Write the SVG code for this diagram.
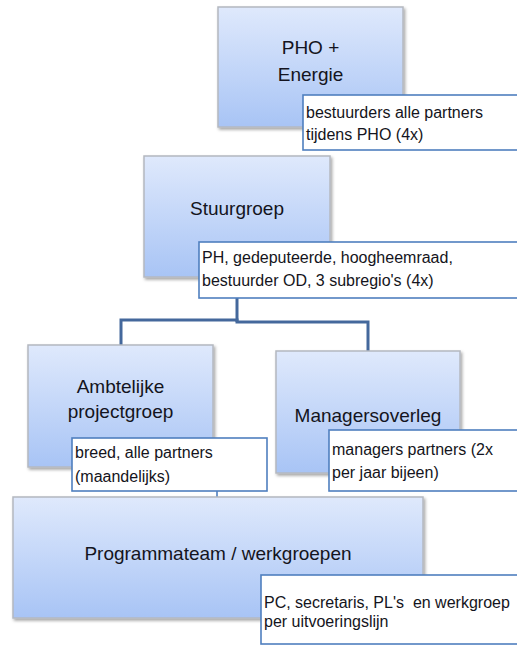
<svg xmlns="http://www.w3.org/2000/svg" width="517" height="647" viewBox="0 0 517 647">
<defs>
<linearGradient id="g" x1="0" y1="0" x2="0" y2="1">
<stop offset="0" stop-color="#dfe9fc"/>
<stop offset="1" stop-color="#a8c4f5"/>
</linearGradient>
<filter id="sh" x="-5%" y="-5%" width="115%" height="120%">
<feDropShadow dx="1.5" dy="2" stdDeviation="1.5" flood-color="#000" flood-opacity="0.35"/>
</filter>
</defs>
<style>
.box{fill:url(#g);stroke:#b4b8c0;stroke-width:1.5;filter:url(#sh)}
.co{fill:#fff;stroke:#4f7fbf;stroke-width:1.6}
.t{font-family:"Liberation Sans",Arial,sans-serif;font-size:19px;fill:#141420;text-anchor:middle}
.c{font-family:"Liberation Sans",Arial,sans-serif;font-size:16px;fill:#141420;white-space:pre}
.ln{fill:none;stroke:#44689c;stroke-width:3}
.ln2{fill:none;stroke:#4f7fbf;stroke-width:1.6}
</style>
<rect width="517" height="647" fill="#fff"/>
<g id="connectors">
<polyline class="ln" points="121,345 121,320 237,320 237,322 368,322 368,351"/>
<line class="ln" x1="237" y1="298" x2="237" y2="322"/>
<line class="ln2" x1="217" y1="467" x2="217" y2="498"/>
</g>
<g id="pho">
<rect class="box" x="218" y="7" width="185" height="120"/>
<text class="t" x="310.5" y="54">PHO +</text>
<text class="t" x="310.5" y="81">Energie</text>
<rect class="co" x="303" y="95" width="220" height="55"/>
<text class="c" x="306" y="118">bestuurders alle partners</text>
<text class="c" x="306" y="140">tijdens PHO (4x)</text>
</g>
<g id="stuurgroep">
<rect class="box" x="144" y="156" width="186" height="121"/>
<text class="t" x="237" y="215">Stuurgroep</text>
<rect class="co" x="199" y="242" width="324" height="56"/>
<text class="c" x="202" y="263">PH, gedeputeerde, hoogheemraad,</text>
<text class="c" x="202" y="286">bestuurder OD, 3 subregio's (4x)</text>
</g>
<g id="ambtelijke">
<rect class="box" x="28" y="345" width="185" height="122"/>
<text class="t" x="120.5" y="393">Ambtelijke</text>
<text class="t" x="120.5" y="418">projectgroep</text>
<rect class="co" x="72" y="438" width="195" height="53"/>
<text class="c" x="75" y="458">breed, alle partners</text>
<text class="c" x="75" y="482">(maandelijks)</text>
</g>
<g id="managersoverleg">
<rect class="box" x="276" y="351" width="184" height="122"/>
<text class="t" x="368" y="422">Managersoverleg</text>
<rect class="co" x="329" y="430" width="194" height="61"/>
<text class="c" x="332" y="455">managers partners (2x</text>
<text class="c" x="332" y="478">per jaar bijeen)</text>
</g>
<g id="programmateam">
<rect class="box" x="13" y="497" width="410" height="121"/>
<text class="t" x="218" y="560">Programmateam / werkgroepen</text>
<rect class="co" x="261" y="575" width="262" height="69"/>
<text class="c" x="264" y="608" xml:space="preserve">PC, secretaris, PL's  en werkgroep</text>
<text class="c" x="264" y="627">per uitvoeringslijn</text>
</g>
</svg>
